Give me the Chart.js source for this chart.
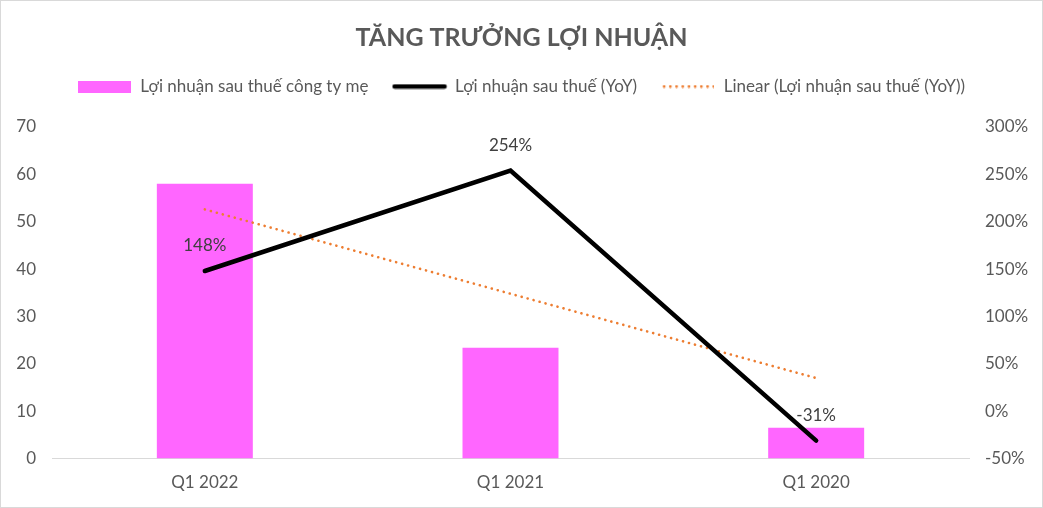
<!DOCTYPE html>
<html>
<head>
<meta charset="utf-8">
<script src="https://cdn.jsdelivr.net/npm/chart.js@4"></script>
<style>
  html, body { margin: 0; padding: 0; background: #fff; }
  #wrap { width: 1043px; height: 508px; box-sizing: border-box; border: 1px solid #d9d9d9; position: relative; }
  canvas { display: block; }
</style>
</head>
<body>
<div id="wrap"><canvas id="c" width="1041" height="506"></canvas></div>
<script>
// Quarters shown on the category axis
const categories = ['Q1 2022', 'Q1 2021', 'Q1 2020'];
// Parent-company net profit (left axis)
const profitParent = [58, 23.4, 6.5];
// Net profit growth, year over year, in % (right axis)
const profitYoY = [148, 254, -31];
// Linear trend of the YoY series, in %
const trendYoY = [213, 124, 35];
// Tick labels
const leftTicks = [0, 10, 20, 30, 40, 50, 60, 70];
const rightTicks = [-50, 0, 50, 100, 150, 200, 250, 300];

const FONT = 'Lato, "Open Sans", sans-serif';
const GREY = '#595959';

function legendImage(kind) {
  const c = document.createElement('canvas');
  const g = c.getContext('2d');
  if (kind === 'bar') {
    c.width = 53; c.height = 12;
    g.fillStyle = '#ff66ff';
    g.fillRect(0, 0, 53, 12);
  } else if (kind === 'line') {
    c.width = 56; c.height = 6;
    g.strokeStyle = '#000';
    g.lineWidth = 4.5;
    g.lineCap = 'round';
    g.beginPath(); g.moveTo(3, 3); g.lineTo(53, 3); g.stroke();
  } else {
    c.width = 52; c.height = 4;
    g.fillStyle = '#ed7d31';
    for (let x = 2; x < 52; x += 6.2) {
      g.beginPath(); g.arc(x, 2, 1.4, 0, Math.PI * 2); g.fill();
    }
  }
  return c;
}
const legendImgs = [legendImage('bar'), legendImage('line'), legendImage('dots')];

// Extra room under the legend row before the plot area
const legendGap = {
  id: 'legendGap',
  afterInit(chart) {
    const lg = chart.legend;
    if (!lg || lg._gapPatched) return;
    const fit = lg.fit.bind(lg);
    lg.fit = function () { fit(); this.height += 22; };
    lg._gapPatched = true;
  }
};

// Value labels above each YoY point
const yoyLabels = {
  id: 'yoyLabels',
  afterDatasetsDraw(chart) {
    const meta = chart.getDatasetMeta(1);
    const ctx = chart.ctx;
    ctx.save();
    ctx.font = '17px ' + FONT;
    ctx.fillStyle = '#404040';
    ctx.textAlign = 'center';
    ctx.textBaseline = 'middle';
    meta.data.forEach((pt, i) => {
      ctx.fillText(profitYoY[i] + '%', pt.x, pt.y - 25);
    });
    ctx.restore();
  }
};

new Chart(document.getElementById('c'), {
  data: {
    labels: categories,
    datasets: [
      {
        type: 'bar',
        label: 'Lợi nhuận sau thuế công ty mẹ',
        data: profitParent,
        backgroundColor: '#ff66ff',
        yAxisID: 'y',
        barPercentage: 1,
        categoryPercentage: 0.314,
        order: 3
      },
      {
        type: 'line',
        label: 'Lợi nhuận sau thuế (YoY)',
        data: profitYoY,
        borderColor: '#000000',
        borderWidth: 4.5,
        borderCapStyle: 'round',
        borderJoinStyle: 'miter',
        pointRadius: 0,
        tension: 0,
        yAxisID: 'y1',
        order: 1
      },
      {
        type: 'line',
        label: 'Linear (Lợi nhuận sau thuế (YoY))',
        data: trendYoY,
        borderColor: '#ed7d31',
        borderWidth: 2.6,
        borderDash: [0.1, 6.1],
        borderCapStyle: 'round',
        pointRadius: 0,
        tension: 0,
        yAxisID: 'y1',
        order: 2
      }
    ]
  },
  options: {
    responsive: false,
    animation: false,
    layout: { padding: { left: 0, right: 0, top: 0, bottom: 0 } },
    plugins: {
      title: {
        display: true,
        text: 'TĂNG TRƯỞNG LỢI NHUẬN',
        color: GREY,
        font: { family: FONT, size: 25, weight: 'bold' },
        padding: { top: 22, bottom: 1 }
      },
      legend: {
        display: true,
        labels: {
          usePointStyle: true,
          color: GREY,
          font: { family: FONT, size: 17 },
          padding: 24,
          generateLabels(chart) {
            return chart.data.datasets.map((ds, i) => ({
              text: ds.label,
              pointStyle: legendImgs[i],
              fillStyle: 'transparent',
              strokeStyle: 'transparent',
              lineWidth: 0,
              fontColor: GREY,
              datasetIndex: i
            }));
          },
          pointStyleWidth: 54
        }
      },
      tooltip: { enabled: false }
    },
    scales: {
      x: {
        grid: { display: false, drawTicks: false },
        border: { display: true, color: '#d9d9d9', width: 1 },
        ticks: { color: GREY, font: { family: FONT, size: 17 }, padding: 14 }
      },
      y: {
        position: 'left',
        min: 0, max: 70,
        afterBuildTicks(s) { s.ticks = leftTicks.map(v => ({ value: v })); },
        afterFit(s) { s.width = 51; },
        grid: { display: false, drawTicks: false },
        border: { display: false },
        ticks: { color: GREY, font: { family: FONT, size: 17 }, padding: 16 }
      },
      y1: {
        position: 'right',
        min: -50, max: 300,
        afterBuildTicks(s) { s.ticks = rightTicks.map(v => ({ value: v })); },
        afterFit(s) { s.width = 73; },
        grid: { display: false, drawTicks: false },
        border: { display: false },
        ticks: {
          color: GREY, font: { family: FONT, size: 17 }, padding: 16,
          callback: v => v + '%'
        }
      }
    }
  },
  plugins: [legendGap, yoyLabels]
});
</script>
</body>
</html>
